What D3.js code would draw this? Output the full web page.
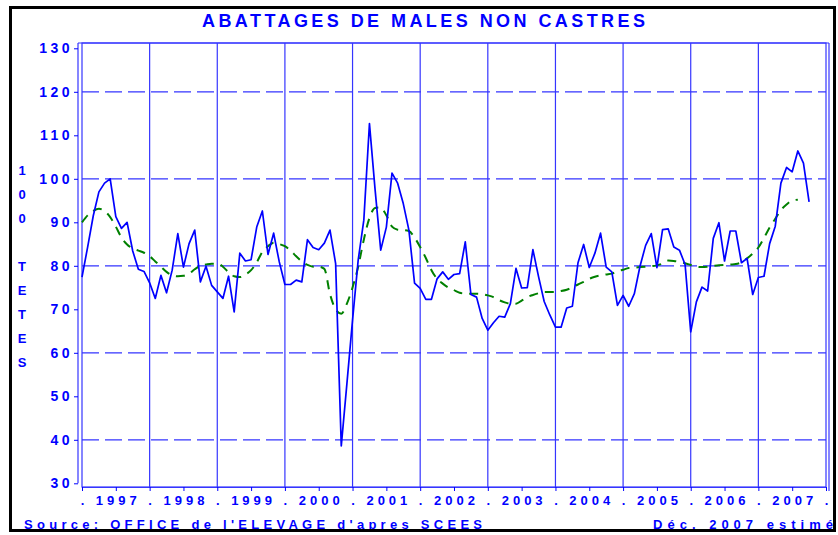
<!DOCTYPE html>
<html>
<head>
<meta charset="utf-8">
<script src="https://cdn.jsdelivr.net/npm/d3@7"></script>
<style>
  body { margin: 0; background: #fff; }
  text { font-family: "Liberation Sans", Arial, sans-serif; font-weight: bold; fill: #0000ff; }
</style>
</head>
<body>
<div id="chart"></div>
<script>
// data (milliers de tetes, monthly from Jan 1997)
var startYear = 1997;
var yearLabels = ["1997", "1998", "1999", "2000", "2001", "2002", "2003", "2004", "2005", "2006", "2007"];

var abattages = [
  77.4, 84.3, 91.5, 97.0, 99.0, 100.0, 91.3, 88.6, 90.0, 83.4, 79.2, 78.7,
  76.1, 72.5, 77.8, 73.8, 79.0, 87.4, 79.7, 85.1, 88.2, 76.3, 79.9, 75.5,
  74.0, 72.5, 77.6, 69.4, 82.9, 81.1, 81.4, 88.9, 92.6, 82.6, 87.5, 80.9,
  75.7, 75.7, 76.7, 76.3, 86.0, 84.2, 83.7, 85.2, 88.2, 80.5, 38.6, 52.9,
  67.5, 81.3, 90.5, 112.7, 97.5, 83.6, 88.9, 101.3, 99.0, 94.3, 88.2, 76.0,
  74.8, 72.3, 72.3, 77.0, 78.6, 76.9, 78.0, 78.2, 85.5, 73.4, 72.8, 67.9,
  65.2, 66.9, 68.4, 68.2, 71.3, 79.4, 74.9, 75.0, 83.7, 77.5, 71.8, 68.7,
  65.9, 65.9, 70.3, 70.7, 80.7, 84.9, 79.6, 82.9, 87.5, 79.7, 78.6, 70.9,
  73.2, 70.7, 73.6, 79.9, 84.7, 87.4, 79.6, 88.3, 88.5, 84.3, 83.6, 80.3,
  64.8, 71.7, 75.1, 74.2, 86.3, 89.9, 81.1, 88.0, 88.0, 80.7, 81.7, 73.4,
  77.3, 77.6, 85.1, 89.1, 99.0, 102.6, 101.6, 106.4, 103.6, 94.7
];

var tendance = [
  90.0, 91.6, 92.6, 93.1, 92.6, 91.2, 89.0, 86.5, 84.9, 84.0, 83.5, 83.0,
  82.2, 81.0, 79.8, 78.6, 77.8, 77.6, 77.7, 78.2, 79.2, 80.0, 80.3, 80.5,
  80.5, 79.8, 78.5, 77.6, 77.4, 78.0, 79.0, 80.8, 83.2, 84.5, 85.3, 85.0,
  84.5, 83.5, 82.2, 81.0, 80.2, 79.8, 79.8, 79.3, 73.5, 70.0, 69.0, 71.3,
  75.0, 79.8, 86.0, 91.0, 93.3, 93.4, 91.6, 89.0, 88.3, 88.2, 88.0, 86.5,
  84.3, 81.8, 79.0, 77.0, 75.9, 75.0, 74.4, 73.8, 73.6, 73.6, 73.6, 73.5,
  73.2, 72.8, 72.1, 71.6, 71.3, 71.3, 72.0, 72.8, 73.3, 73.7, 74.0, 74.0,
  74.0, 74.2, 74.5, 75.0, 75.7, 76.3, 77.0, 77.5, 77.8, 78.0, 78.2, 78.7,
  79.1, 79.5, 79.6, 79.7, 79.8, 79.9, 80.1, 80.5, 81.2, 81.1, 80.9, 80.6,
  80.2, 79.8, 79.7, 79.8, 80.0, 80.1, 80.2, 80.3, 80.4, 80.8, 81.7, 82.8,
  84.2, 86.4, 88.8, 90.8, 92.8, 94.1, 95.0, 95.2
];

var yTicks = [30, 40, 50, 60, 70, 80, 90, 100, 110, 120, 130];
var yGrid = [40, 60, 80, 100, 120];
var yTitle = ["1", "0", "0", "", "T", "E", "T", "E", "S"];

var width = 838, height = 535;
var plot = { left: 82, right: 826, top: 43, bottom: 487 };
var blue = "#0000ff", gridBlue = "#3535ff";

var svg = d3.select("#chart")
  .append("svg")
  .attr("width", width)
  .attr("height", height);

// scales: x in fractional years, one point per month start
var x = d3.scaleLinear()
  .domain([startYear, startYear + yearLabels.length])
  .range([plot.left, plot.right]);
var y = d3.scaleLinear()
  .domain([30, 130])
  .range([483.3, 48.3]);

function monthX(d, i) { return x(startYear + i / 12); }

// title
svg.append("text")
  .attr("x", 202)
  .attr("y", 27)
  .attr("font-size", 18)
  .attr("textLength", 443)
  .attr("lengthAdjust", "spacing")
  .text("ABATTAGES DE MALES NON CASTRES");

// frame
svg.append("rect")
  .attr("x", plot.left)
  .attr("y", plot.top)
  .attr("width", plot.right - plot.left)
  .attr("height", plot.bottom - plot.top)
  .attr("fill", "none")
  .attr("stroke", gridBlue)
  .attr("stroke-width", 1.2);
svg.append("line")
  .attr("x1", 78).attr("x2", 829).attr("y1", plot.top).attr("y2", plot.top)
  .attr("stroke", gridBlue).attr("stroke-width", 1.2);
svg.append("line")
  .attr("x1", 78).attr("x2", 78).attr("y1", plot.top).attr("y2", y(30))
  .attr("stroke", gridBlue).attr("stroke-width", 1.2);
svg.append("line")
  .attr("x1", 829).attr("x2", 829).attr("y1", plot.top).attr("y2", 491)
  .attr("stroke", gridBlue).attr("stroke-width", 1.2);

// vertical grid at year boundaries
svg.append("g")
  .selectAll("line")
  .data(d3.range(1, yearLabels.length))
  .enter()
  .append("line")
  .attr("x1", function (d) { return x(startYear + d); })
  .attr("x2", function (d) { return x(startYear + d); })
  .attr("y1", plot.top)
  .attr("y2", plot.bottom)
  .attr("stroke", gridBlue)
  .attr("stroke-width", 1.2);

// dashed horizontal grid
svg.append("g")
  .selectAll("line")
  .data(yGrid)
  .enter()
  .append("line")
  .attr("x1", plot.left)
  .attr("x2", plot.right)
  .attr("y1", function (d) { return y(d); })
  .attr("y2", function (d) { return y(d); })
  .attr("stroke", gridBlue)
  .attr("stroke-width", 1.2)
  .attr("stroke-dasharray", "17,6");

// Y axis
var yAxis = svg.append("g")
  .attr("transform", "translate(78,0)")
  .call(d3.axisLeft(y).tickValues(yTicks).tickSize(4).tickSizeOuter(0).tickPadding(1));
yAxis.select(".domain").remove();
yAxis.selectAll("line").attr("stroke", blue);
yAxis.selectAll("text")
  .attr("fill", blue)
  .attr("font-size", 14)
  .attr("font-family", null)
  .style("letter-spacing", "3.5px");

// X axis: "." at year boundaries, year label mid-year
var xTickValues = [];
for (var i = 0; i <= yearLabels.length; i++) {
  xTickValues.push(startYear + i);
  if (i < yearLabels.length) xTickValues.push(startYear + i + 0.5);
}
var xAxis = svg.append("g")
  .attr("transform", "translate(0," + plot.bottom + ")")
  .call(d3.axisBottom(x)
    .tickValues(xTickValues)
    .tickSize(4)
    .tickSizeOuter(0)
    .tickPadding(5)
    .tickFormat(function (d) {
      return Number.isInteger(d) ? "." : yearLabels[Math.floor(d - startYear)];
    }));
xAxis.select(".domain").attr("stroke", gridBlue).attr("stroke-width", 1.2);
xAxis.selectAll("line").attr("stroke", blue);
xAxis.selectAll("text")
  .attr("fill", blue)
  .attr("font-size", 13)
  .attr("font-family", null)
  .style("letter-spacing", "4px")
  .attr("dx", "2px");

// Y title, stacked letters
svg.append("g")
  .selectAll("text")
  .data(yTitle)
  .enter()
  .append("text")
  .attr("x", 22)
  .attr("y", function (d, i) { return 170 + i * 24; })
  .attr("text-anchor", "middle")
  .attr("dominant-baseline", "central")
  .attr("font-size", 13)
  .text(function (d) { return d; });

// trend (dashed green)
svg.append("path")
  .datum(tendance)
  .attr("fill", "none")
  .attr("stroke", "#008000")
  .attr("stroke-width", 2)
  .attr("stroke-dasharray", "9,7")
  .attr("d", d3.line()
    .x(monthX)
    .y(function (d) { return y(d); })
    .curve(d3.curveMonotoneX));

// monthly slaughter line
svg.append("path")
  .datum(abattages)
  .attr("fill", "none")
  .attr("stroke", blue)
  .attr("stroke-width", 1.7)
  .attr("stroke-linejoin", "round")
  .attr("d", d3.line()
    .x(monthX)
    .y(function (d) { return y(d); }));

// footer
svg.append("text")
  .attr("x", 24)
  .attr("y", 529)
  .attr("font-size", 13)
  .attr("textLength", 458)
  .attr("lengthAdjust", "spacing")
  .text("Source: OFFICE de l'ELEVAGE d'apres SCEES");
svg.append("text")
  .attr("x", 653)
  .attr("y", 529)
  .attr("font-size", 13)
  .attr("textLength", 180)
  .attr("lengthAdjust", "spacing")
  .text("Déc. 2007 estimé");

// outer black border
svg.append("rect")
  .attr("x", 10.5)
  .attr("y", 7.5)
  .attr("width", 824)
  .attr("height", 523)
  .attr("fill", "none")
  .attr("stroke", "#000")
  .attr("stroke-width", 3);
</script>
</body>
</html>
